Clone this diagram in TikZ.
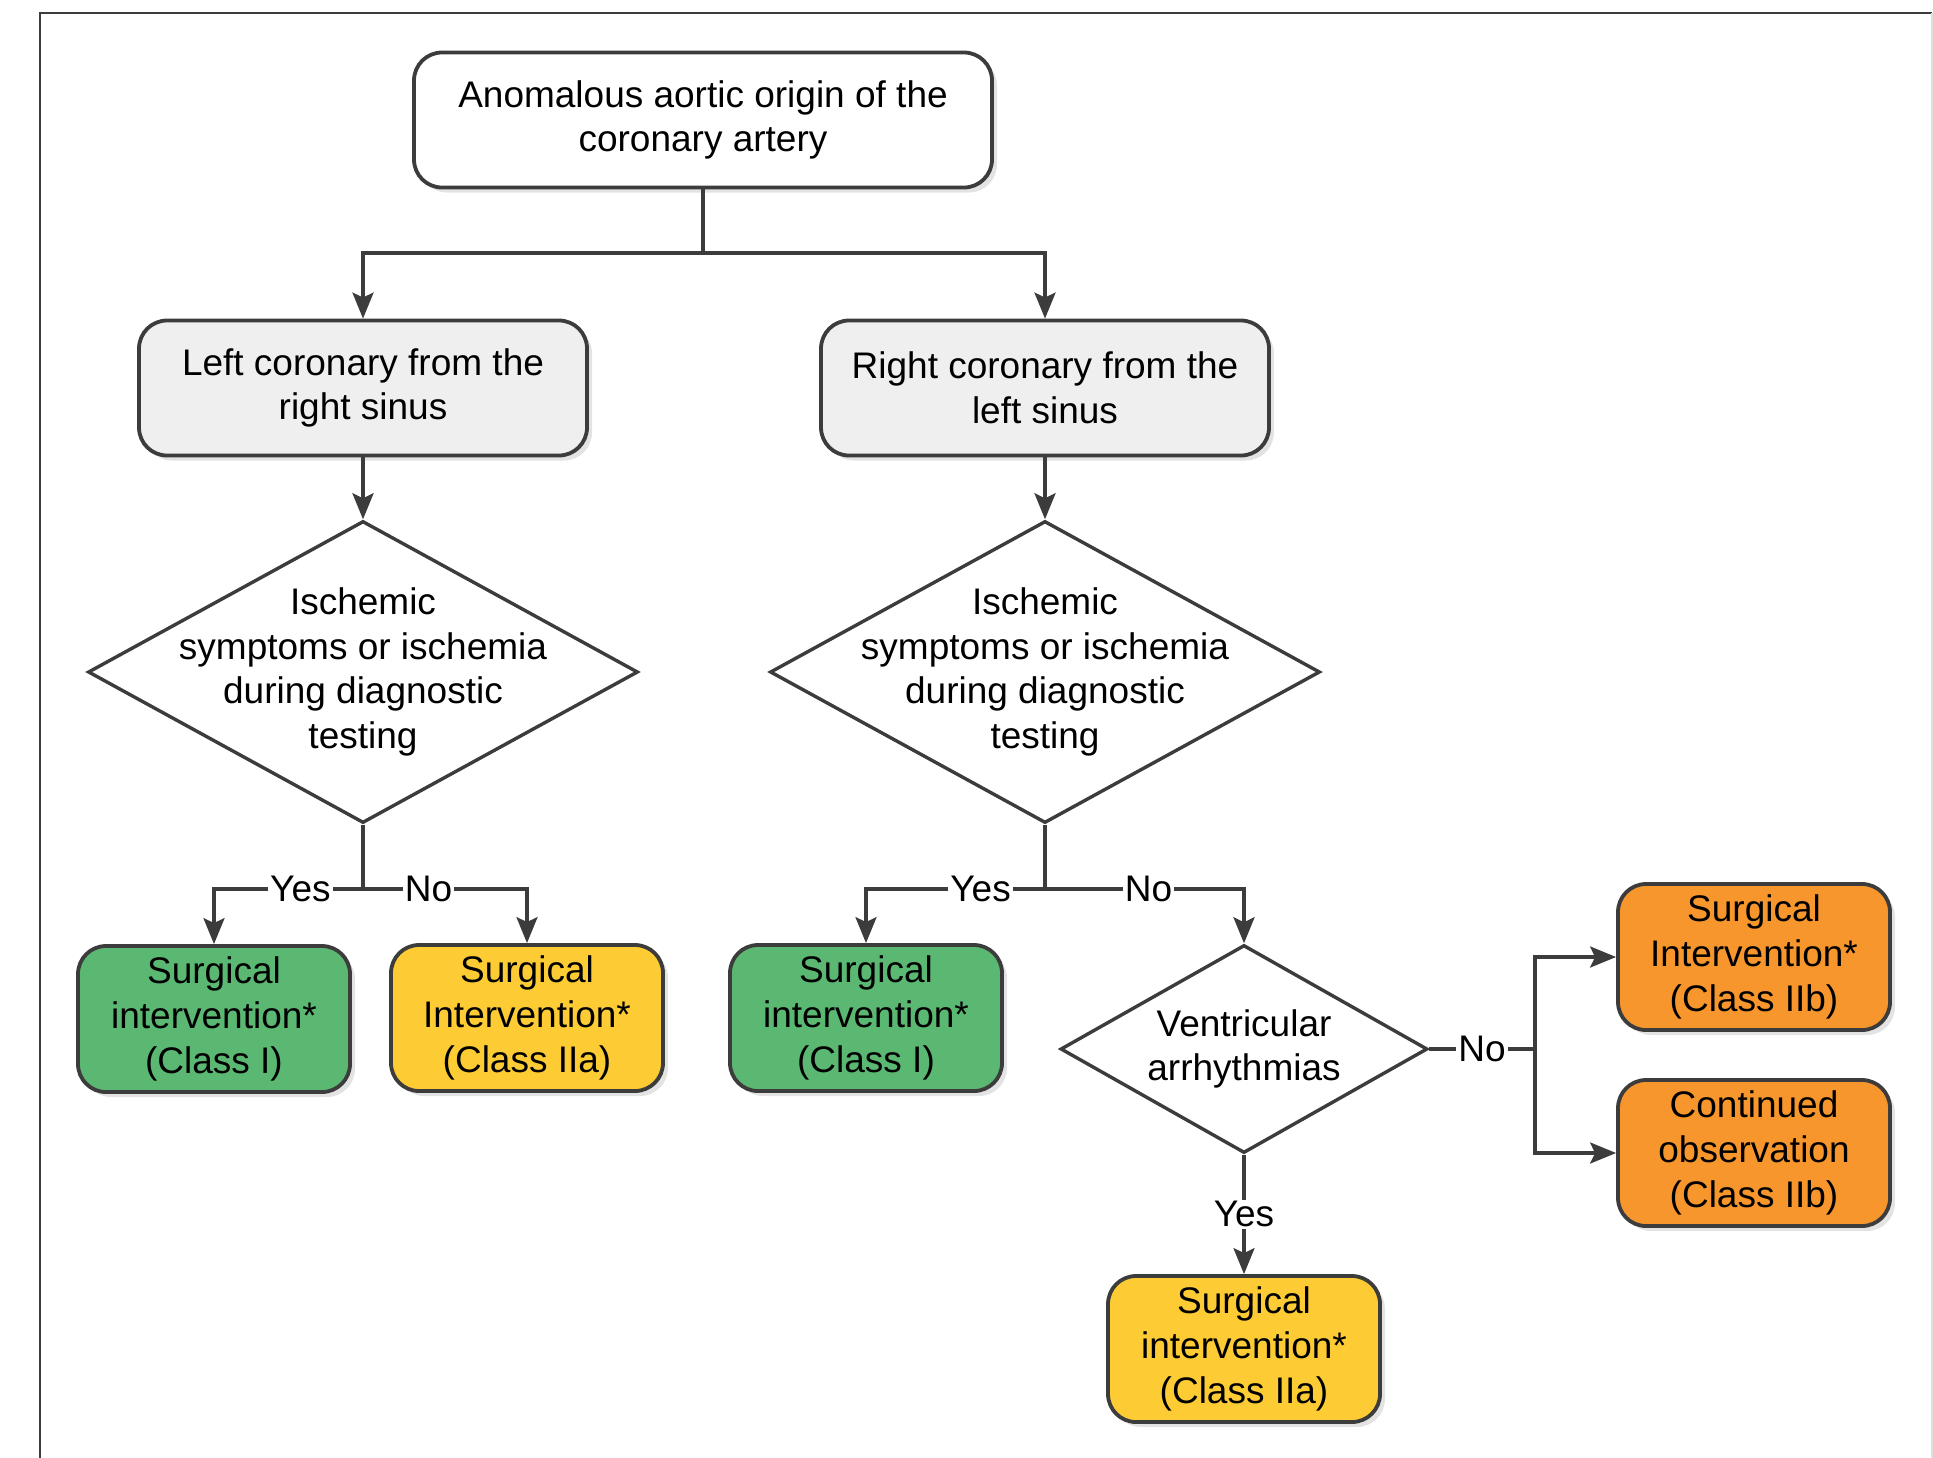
\documentclass[tikz,border=0pt]{standalone}
\usepackage{fontspec}
\setmainfont{Liberation Sans}
\usetikzlibrary{arrows.meta}
\usetikzlibrary{shapes.geometric}
\usetikzlibrary{shadows}

\definecolor{linegray}{HTML}{3C3C3C}
\definecolor{boxgray}{HTML}{EFEFEF}
\definecolor{classgreen}{HTML}{5BB872}
\definecolor{classyellow}{HTML}{FDCB33}
\definecolor{classorange}{HTML}{F7962D}

\begin{document}
\begin{tikzpicture}[x=0.5pt, y=-0.5pt,
    font=\fontsize{18.5}{22.4}\selectfont,
    box/.style={rectangle, rounded corners=14pt, draw=linegray, line width=1.9pt,
      align=center, inner sep=0pt,
      drop shadow={shadow xshift=2.5pt, shadow yshift=-2.5pt, opacity=0.22}},
    startbox/.style={box, fill=white, minimum width=289pt, minimum height=67.5pt},
    subbox/.style={box, fill=boxgray, minimum width=224pt, minimum height=67.5pt},
    result/.style={box, minimum width=136pt, minimum height=73pt},
    decision/.style={diamond, draw=linegray, line width=1.7pt, fill=white,
      minimum width=275pt, minimum height=151pt, inner sep=0pt},
    link/.style={draw=linegray, line width=1.8pt},
    arr/.style={link, -{Stealth[length=13pt, width=10.5pt, inset=2.5pt]}},
    lbl/.style={fill=white, inner sep=1pt}]

      \useasboundingbox (0,0) rectangle (1933,1457);
      \draw[linegray, line width=1pt] (40,1470) -- (40,13) -- (1932,13);
      \draw[gray!25, line width=1pt] (1932,13) -- (1932,1470);

      \node[startbox] (origin) at (703,120) {Anomalous aortic origin of the\\coronary artery};
      \node[subbox] (leftcor) at (363,388) {Left coronary from the\\right sinus};
      \node[subbox] (rightcor) at (1045,388) {Right coronary from the\\left sinus};

      \node[decision] (ischleft) at (363,672) {};
      \node[align=center] (ischlefttext) at (ischleft) {Ischemic\\symptoms or ischemia\\during diagnostic\\testing};
      \node[decision] (ischright) at (1045,672) {};
      \node[align=center] (ischrighttext) at (ischright) {Ischemic\\symptoms or ischemia\\during diagnostic\\testing};

      \node[result, fill=classgreen] (surgleft) at (214,1019) {Surgical\\intervention*\\(Class I)};
      \node[result, fill=classyellow] (surgleftno) at (527,1018) {Surgical\\Intervention*\\(Class IIa)};
      \node[result, fill=classgreen] (surgright) at (866,1018) {Surgical\\intervention*\\(Class I)};

      \node[decision, minimum width=183.5pt, minimum height=104pt] (vent) at (1244,1049) {};
      \node[align=center] (venttext) at (vent) {Ventricular\\arrhythmias};

      \node[result, fill=classyellow] (surgvent) at (1244,1349) {Surgical\\intervention*\\(Class IIa)};
      \node[result, fill=classorange] (surgnovent) at (1754,957) {Surgical\\Intervention*\\(Class IIb)};
      \node[result, fill=classorange] (observe) at (1754,1153) {Continued\\observation\\(Class IIb)};

      \coordinate (split) at (703,253);
      \coordinate (splitleft) at (363,889);
      \coordinate (splitright) at (1045,889);
      \coordinate (splitvent) at (1535,1049);

      \draw[link] (origin) -- (split);
      \draw[arr] (split) -| (leftcor);
      \draw[arr] (split) -| (rightcor);
      \draw[arr] (leftcor) -- (ischleft);
      \draw[arr] (rightcor) -- (ischright);

      \draw[link] (ischleft) -- (splitleft);
      \draw[arr] (splitleft) -| node[lbl, pos=0.21] {Yes} (surgleft);
      \draw[arr] (splitleft) -| node[lbl, pos=0.2] {No} (surgleftno);

      \draw[link] (ischright) -- (splitright);
      \draw[arr] (splitright) -| node[lbl, pos=0.18] {Yes} (surgright);
      \draw[arr] (splitright) -| node[lbl, pos=0.26] {No} (vent);

      \draw[arr] (vent) -- node[lbl] {Yes} (surgvent);
      \draw[link] (vent) -- node[lbl] {No} (splitvent);
      \draw[arr] (splitvent) |- (surgnovent);
      \draw[arr] (splitvent) |- (observe);
\end{tikzpicture}
\end{document}
